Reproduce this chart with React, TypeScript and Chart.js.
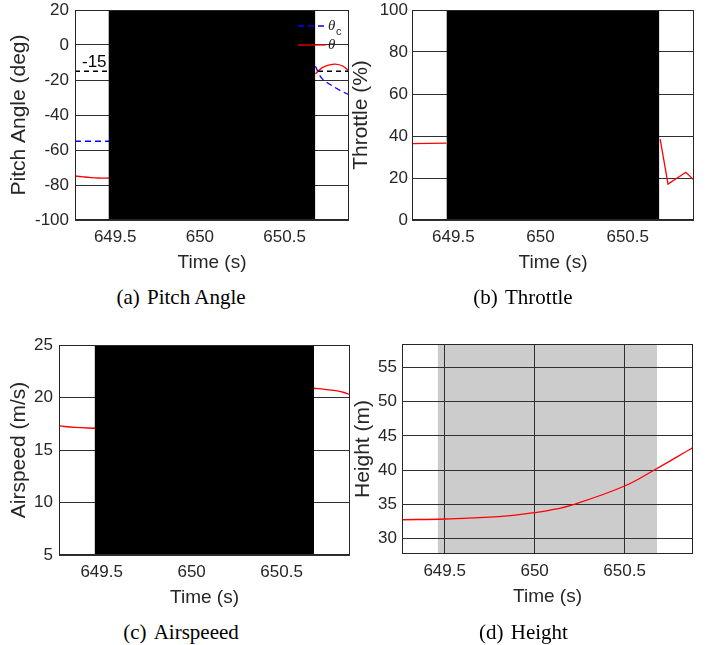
import React, { useEffect, useRef } from "react";
import { Chart, registerables } from "chart.js";

Chart.register(...registerables);

// ---------- shared axis data ----------
const timeMin = 649.263;
const timeMax = 650.88;
const timeTicks = [649.5, 650, 650.5];
const eventStart = 649.462;
const eventEnd = 650.68;

// ---------- (a) Pitch angle ----------
const pitchCmdTime = [649.263, 649.465, 650.07, 650.682, 650.716, 650.75, 650.784, 650.83, 650.88];
const pitchCmd = [-55, -55, null, -12.1, -18.7, -21.4, -23.5, -26.1, -28.4];
const pitchTime = [649.263, 649.3, 649.35, 649.4, 649.465, 650.07, 650.682, 650.705, 650.725, 650.76, 650.8, 650.843, 650.88];
const pitch = [-74.9, -75.2, -75.7, -76.0, -76.0, null, -16.5, -14.3, -12.8, -11.5, -10.9, -12.0, -14.9];
const pitchLimit = -15;
const pitchTicks = [-100, -80, -60, -40, -20, 0, 20];

// ---------- (b) Throttle ----------
const throttleTime = [649.263, 649.46, 650.07, 650.686, 650.731, 650.833, 650.88];
const throttle = [36.4, 36.6, null, 38.5, 17.1, 22.7, 19.0];
const throttleTicks = [0, 20, 40, 60, 80, 100];

// ---------- (c) Airspeed ----------
const airTime = [649.263, 649.35, 649.47, 650.07, 650.678, 650.74, 650.8, 650.84, 650.88];
const airspeed = [17.3, 17.15, 17.07, null, 20.88, 20.78, 20.65, 20.5, 20.3];
const airTicks = [5, 10, 15, 20, 25];

// ---------- (d) Height ----------
const heightTime = [649.263, 649.5, 649.8, 650.0, 650.08, 650.22, 650.5, 650.665, 650.88];
const height = [32.77, 32.88, 33.21, 33.8, 34.12, 35.02, 37.69, 40.03, 43.3];
const heightTicks = [30, 35, 40, 45, 50, 55];

const SANS = "'Liberation Sans', Arial, Helvetica, sans-serif";
const SERIF = "'Liberation Serif', 'Times New Roman', Times, serif";
const TXT = "#262626";
const GRID = "#303030";

const pts = (xs: number[], ys: (number | null)[]) => xs.map((x, i) => ({ x, y: ys[i] }));

function paintShade(chart: any, opts: any) {
  const { ctx, chartArea, scales } = chart;
  const x0 = scales.x.getPixelForValue(opts.from);
  const x1 = scales.x.getPixelForValue(opts.to);
  ctx.save();
  ctx.fillStyle = opts.color;
  ctx.fillRect(x0, chartArea.top, x1 - x0, chartArea.bottom - chartArea.top);
  ctx.restore();
}

const shadePlugin = {
  id: "shade",
  beforeDraw(chart: any, _a: any, opts: any) {
    if (!opts.front) paintShade(chart, opts);
  },
  afterDatasetsDraw(chart: any, _a: any, opts: any) {
    if (opts.front) paintShade(chart, opts);
  },
};

const boxPlugin = {
  id: "box",
  afterDraw(chart: any) {
    const { ctx, chartArea } = chart;
    const l = Math.round(chartArea.left) + 0.5;
    const t = Math.round(chartArea.top) + 0.5;
    const r = Math.round(chartArea.right) - 0.5;
    const b = Math.round(chartArea.bottom) - 0.5;
    ctx.save();
    ctx.strokeStyle = "#262626";
    ctx.lineWidth = 1;
    ctx.strokeRect(l, t, r - l, b - t);
    ctx.restore();
  },
};

const pitchDecor = {
  id: "pitchDecor",
  afterDraw(chart: any) {
    const { ctx, chartArea, scales } = chart;
    ctx.save();
    // limit label
    ctx.fillStyle = "#000";
    ctx.font = `17px ${SANS}`;
    ctx.textAlign = "left";
    ctx.textBaseline = "middle";
    ctx.fillText(String(pitchLimit), chartArea.left + 7, scales.y.getPixelForValue(pitchLimit) - 9);
    // legend
    const x0 = chartArea.right - 51;
    const x1 = chartArea.right - 23;
    const y1 = chartArea.top + 16;
    const y2 = chartArea.top + 35;
    ctx.lineWidth = 1.3;
    ctx.strokeStyle = "#0000ff";
    ctx.setLineDash([6, 4]);
    ctx.beginPath();
    ctx.moveTo(x0, y1);
    ctx.lineTo(x1, y1);
    ctx.stroke();
    ctx.setLineDash([]);
    ctx.strokeStyle = "#ff0000";
    ctx.beginPath();
    ctx.moveTo(x0, y2);
    ctx.lineTo(x1, y2);
    ctx.stroke();
    ctx.fillStyle = TXT;
    ctx.font = `italic 15px ${SERIF}`;
    ctx.fillText("θ", x1 + 2, y1);
    ctx.fillText("θ", x1 + 2, y2);
    ctx.font = `11px ${SANS}`;
    ctx.fillText("c", x1 + 10, y1 + 6);
    ctx.restore();
  },
};

type Spec = {
  left: number;
  top: number;
  width: number;
  height: number;
  axisW: number;
  padR: number;
  yTickPad: number;
  yTitlePad: number;
  yLabel: string;
  yMin: number;
  yMax: number;
  yTicks: number[];
  datasets: any[];
  shadeColor: string;
  shadeFront: boolean;
  extra?: any[];
};

function buildConfig(s: Spec): any {
  return {
    type: "line",
    data: { datasets: s.datasets },
    plugins: [shadePlugin, boxPlugin, ...(s.extra || [])],
    options: {
      animation: false,
      responsive: false,
      maintainAspectRatio: false,
      devicePixelRatio: 1,
      parsing: false,
      normalized: true,
      layout: { padding: { left: 0, top: 10, right: s.padR, bottom: 0 } },
      elements: { point: { radius: 0 }, line: { borderWidth: 1.3 } },
      plugins: {
        legend: { display: false },
        tooltip: { enabled: false },
        shade: { from: eventStart, to: eventEnd, color: s.shadeColor, front: s.shadeFront },
      },
      scales: {
        x: {
          type: "linear",
          min: timeMin,
          max: timeMax,
          afterBuildTicks: (sc: any) => {
            sc.ticks = timeTicks.map((v) => ({ value: v }));
          },
          afterFit: (sc: any) => {
            sc.height = s.height - 220;
            sc.paddingLeft = 0;
            sc.paddingRight = 0;
          },
          border: { display: false },
          grid: { color: GRID, lineWidth: 1, drawTicks: false },
          ticks: {
            autoSkip: false,
            maxRotation: 0,
            padding: 7,
            color: TXT,
            font: { family: SANS, size: 17 },
            callback: (v: any) => String(v),
          },
          title: {
            display: true,
            text: "Time (s)",
            color: TXT,
            font: { family: SANS, size: 19 },
            padding: { top: 0, bottom: 5.5 },
          },
        },
        y: {
          type: "linear",
          min: s.yMin,
          max: s.yMax,
          afterBuildTicks: (sc: any) => {
            sc.ticks = s.yTicks.map((v) => ({ value: v }));
          },
          afterFit: (sc: any) => {
            sc.width = s.axisW;
            sc.paddingTop = 0;
            sc.paddingBottom = 0;
          },
          border: { display: false },
          grid: { color: GRID, lineWidth: 1, drawTicks: false },
          ticks: {
            autoSkip: false,
            padding: s.yTickPad,
            color: TXT,
            font: { family: SANS, size: 17 },
            callback: (v: any) => String(v),
          },
          title: {
            display: true,
            text: s.yLabel,
            color: TXT,
            font: { family: SANS, size: 21 },
            padding: { top: s.yTitlePad, bottom: 0 },
          },
        },
      },
    },
  };
}

function Panel({ spec }: { spec: Spec }) {
  const ref = useRef<HTMLCanvasElement>(null);
  useEffect(() => {
    const chart = new Chart(ref.current as HTMLCanvasElement, buildConfig(spec));
    return () => chart.destroy();
  }, []);
  return (
    <canvas
      ref={ref}
      width={spec.width}
      height={spec.height}
      style={{ position: "absolute", left: spec.left, top: spec.top, width: spec.width, height: spec.height }}
    />
  );
}

const redLine = (data: any[], smooth = true) => ({
  data,
  borderColor: "#ff0000",
  borderWidth: 1.3,
  tension: smooth ? 0.4 : 0,
  spanGaps: false,
});

const panels: Spec[] = [
  {
    left: 0, top: 0, width: 355, height: 280, axisW: 75, padR: 6, yTickPad: 6, yTitlePad: 7,
    yLabel: "Pitch Angle (deg)", yMin: -100, yMax: 20, yTicks: pitchTicks,
    shadeColor: "#000000", shadeFront: true, extra: [pitchDecor],
    datasets: [
      {
        data: [{ x: timeMin, y: pitchLimit }, { x: timeMax, y: pitchLimit }],
        borderColor: "#000000", borderWidth: 1.3, borderDash: [5, 4],
      },
      { ...redLine(pts(pitchTime, pitch)) },
      {
        data: pts(pitchCmdTime, pitchCmd), borderColor: "#0000ff", borderWidth: 1.3,
        borderDash: [6, 4], tension: 0.3, spanGaps: false,
      },
    ],
  },
  {
    left: 340, top: 0, width: 367, height: 280, axisW: 72, padR: 13, yTickPad: 4, yTitlePad: 9,
    yLabel: "Throttle (%)", yMin: 0, yMax: 100, yTicks: throttleTicks,
    shadeColor: "#000000", shadeFront: true,
    datasets: [redLine(pts(throttleTime, throttle), false)],
  },
  {
    left: 0, top: 335, width: 355, height: 280, axisW: 59, padR: 5, yTickPad: 6, yTitlePad: 7,
    yLabel: "Airspeed (m/s)", yMin: 5, yMax: 25, yTicks: airTicks,
    shadeColor: "#000000", shadeFront: true,
    datasets: [redLine(pts(airTime, airspeed))],
  },
  {
    left: 340, top: 334, width: 367, height: 280, axisW: 62, padR: 14, yTickPad: 5, yTitlePad: 11,
    yLabel: "Height (m)", yMin: 27.77, yMax: 58.41, yTicks: heightTicks,
    shadeColor: "#cccccc", shadeFront: false,
    datasets: [redLine(pts(heightTime, height))],
  },
];

const captions = [
  { tag: "(a)", text: "Pitch Angle", cx: 181, cy: 297 },
  { tag: "(b)", text: "Throttle", cx: 523, cy: 297 },
  { tag: "(c)", text: "Airspeeed", cx: 181, cy: 632 },
  { tag: "(d)", text: "Height", cx: 523.5, cy: 632 },
];

export default function App() {
  return (
    <div style={{ position: "fixed", left: 0, top: 0, width: 707, height: 645, background: "#fff", overflow: "hidden" }}>
      {panels.map((p, i) => (
        <Panel key={i} spec={p} />
      ))}
      {captions.map((c, i) => (
        <div
          key={"c" + i}
          style={{
            position: "absolute",
            left: c.cx - 150,
            top: c.cy - 12,
            width: 300,
            height: 24,
            lineHeight: "24px",
            textAlign: "center",
            fontFamily: SERIF,
            fontSize: 21,
            color: "#000",
            whiteSpace: "nowrap",
          }}
        >
          <span style={{ marginRight: 2 }}>{c.tag} </span>
          <span>{c.text}</span>
        </div>
      ))}
    </div>
  );
}
